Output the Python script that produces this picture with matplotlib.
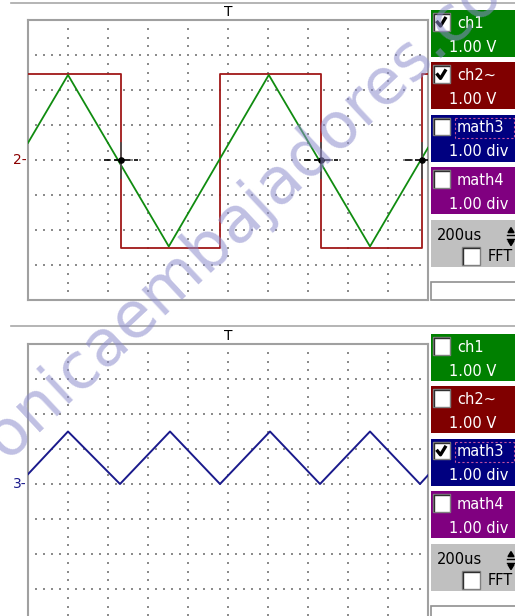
import matplotlib
matplotlib.use('Agg')
import matplotlib.pyplot as plt
from matplotlib.patches import Rectangle
import numpy as np

W, H = 515, 616

# --- trace data, in divisions (x: 0..10 div, y: -4..4 div) ---
ch1_t = [0.0, 1.0, 3.52, 6.02, 8.55, 10.0]
ch1_v = [0.49, 2.43, -2.47, 2.43, -2.47, 0.35]

ch2_t = [0.0, 2.32, 2.32, 4.8, 4.8, 7.32, 7.32, 9.85, 9.85, 10.0]
ch2_v = [2.45, 2.45, -2.5, -2.5, 2.45, 2.45, -2.5, -2.5, 2.45, 2.45]

math3_t = [0.0, 1.0, 2.3, 3.55, 4.8, 6.05, 7.3, 8.55, 9.8, 10.0]
math3_v = [0.28, 1.5, 0.0, 1.5, 0.0, 1.5, 0.0, 1.5, 0.0, 0.25]

cursor_t = [2.32, 7.32, 9.84]

# side panel
labels = ['ch1', 'ch2~', 'math3', 'math4']
scales = ['1.00 V', '1.00 V', '1.00 div', '1.00 div']
box_colors = ['#008000', '#800000', '#000080', '#800080']
checks_top = [True, True, False, False]
checks_bottom = [False, False, True, False]
timebase = '200us'

fig = plt.figure(figsize=(W / 100, H / 100), dpi=100)
fig.patch.set_facecolor('white')


def panel(top_px):
    ax = fig.add_axes([28 / W, (H - top_px - 280) / H, 400 / W, 280 / H])
    ax.set_xlim(0, 10)
    ax.set_ylim(-4, 4)
    ax.set_xticks([])
    ax.set_yticks([])
    for s in ax.spines.values():
        s.set_color('#a0a0a0')
        s.set_linewidth(1.5)
    # dotted graticule
    for x in range(1, 10):
        yy = np.arange(-4, 4.01, 0.25)
        ax.scatter(np.full(len(yy), x), yy, s=1.2, c='#8c8c8c', marker='s',
                   linewidths=0, zorder=1)
    for y in range(-3, 4):
        xx = np.arange(0.2, 10, 0.2)
        ax.scatter(xx, np.full(len(xx), y), s=1.2, c='#8c8c8c', marker='s',
                   linewidths=0, zorder=1)
    return ax


ax1 = panel(20)
ax1.plot(ch2_t, ch2_v, color='#a01818', lw=1.3, zorder=3)
ax1.plot(ch1_t, ch1_v, color='#108c10', lw=1.3, zorder=4)
for t in cursor_t:
    ax1.plot([t, t], [-0.5, 0.5], color='#505050', lw=1.3, zorder=5)
    ax1.plot([t - 0.42, t + 0.42], [0, 0], color='black', lw=1.2,
             dashes=(4, 2), zorder=5)
    ax1.scatter([t], [0], s=14, c='black', zorder=6)

ax2 = panel(344)
ax2.plot(math3_t, math3_v, color='#1a1a8c', lw=1.4, zorder=4)

ov = fig.add_axes([0, 0, 1, 1], zorder=10)
ov.set_xlim(0, W)
ov.set_ylim(H, 0)
ov.axis('off')

FONT = 'DejaVu Sans'


def header(y_line, y_t):
    ov.plot([11, W], [y_line, y_line], color='#a8a8a8', lw=1.2)
    ov.text(228, y_t, 'T', ha='center', va='center', fontsize=10,
            family=FONT, color='black')


header(3, 12)
header(326, 336)

ov.text(27, 160, '2-', ha='right', va='center', fontsize=10, family=FONT,
        color='#8b0000')
ov.text(27, 484, '3-', ha='right', va='center', fontsize=10, family=FONT,
        color='#1a1a8c')


def checkbox(x, y, size, checked):
    ov.add_patch(Rectangle((x, y), size, size, facecolor='white',
                           edgecolor='#808080', lw=1))
    ov.plot([x + 1, x + 1, x + size - 1], [y + size - 1, y + 1, y + 1],
            color='#303030', lw=1)
    if checked:
        ov.plot([x + 4, x + 8, x + size - 4], [y + 8, y + 13, y + 4],
                color='black', lw=2.4, solid_capstyle='butt')


def side(top_px, checks, white_bottom):
    y = top_px
    for lab, sc, col, chk in zip(labels, scales, box_colors, checks):
        ov.add_patch(Rectangle((431, y), 90, 47, facecolor=col,
                               edgecolor='none'))
        checkbox(432.5, y + 3, 17.5, chk)
        ov.text(457, y + 13, lab, ha='left', va='center', fontsize=10.5,
                family=FONT, color='white')
        if lab == 'math3':
            ov.add_patch(Rectangle((455, y + 3), 59, 20, facecolor='none',
                                   edgecolor='#c050a0', lw=0.8,
                                   linestyle=(0, (2, 2))))
        ov.text(449, y + 37, sc, ha='left', va='center', fontsize=10.5,
                family=FONT, color='white')
        y += 52.4
    # timebase box
    gy = y
    ov.add_patch(Rectangle((431, gy), 90, 47, facecolor='#c0c0c0',
                           edgecolor='none'))
    ov.text(437, gy + 16, timebase, ha='left', va='center', fontsize=10.5,
            family=FONT, color='black')
    # spinner
    ov.plot([507, 515], [gy + 15, gy + 15], color='black', lw=1)
    ov.plot([507, 515], [gy + 19, gy + 19], color='black', lw=1)
    ov.add_patch(plt.Polygon([[508, gy + 13], [514, gy + 13], [511, gy + 8]],
                             color='black'))
    ov.add_patch(plt.Polygon([[508, gy + 21], [514, gy + 21], [511, gy + 26]],
                             color='black'))
    checkbox(462, gy + 27, 18, False)
    ov.text(488, gy + 37, 'FFT', ha='left', va='center', fontsize=10.5,
            family=FONT, color='black')
    # empty box below
    wy = gy + 62
    ov.add_patch(Rectangle((431, wy), 90, white_bottom - wy,
                           facecolor='white', edgecolor='#909090', lw=1.2))


side(10, checks_top, 300)
side(334, checks_bottom, 630)

# watermark
ov.text(213, 268, 'electronicaembajadores.com', rotation=43,
        rotation_mode='anchor', ha='center', va='baseline', fontsize=46,
        family=FONT, color=(0.55, 0.55, 0.8), alpha=0.55, zorder=20)

fig.savefig('out.png', dpi=100)
